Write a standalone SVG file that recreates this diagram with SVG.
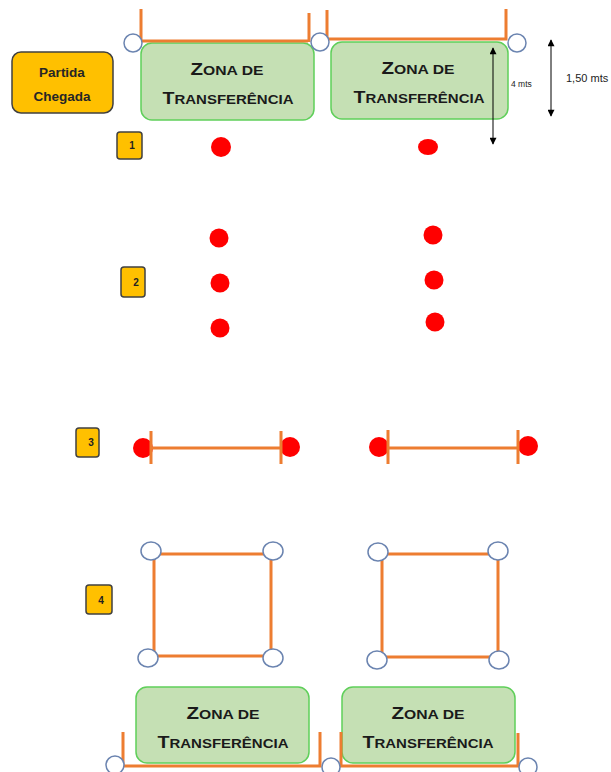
<svg xmlns="http://www.w3.org/2000/svg" width="611" height="772" viewBox="0 0 611 772">
<style>
.zone{fill:#C5E0B4;stroke:#5FCF5A;stroke-width:1.5}
.ztxt{font-family:"Liberation Sans",Arial,sans-serif;font-weight:bold;fill:#1a1a1a;text-anchor:middle}
.big{font-size:17px}
.sm{font-size:13px}
.bar{stroke:#ED7D31;stroke-width:3;fill:none}
.cone{fill:#fff;stroke:#6B84B0;stroke-width:1.5}
.dot{fill:#FF0000}
.badge{fill:#FFC000;stroke:#404040;stroke-width:1.5}
.btxt{font-family:"Liberation Sans",Arial,sans-serif;font-weight:bold;font-size:10px;fill:#222;text-anchor:middle}
.dim{stroke:#000;stroke-width:1}
.dtxt{font-family:"Liberation Sans",Arial,sans-serif;fill:#222}
.ptxt{font-family:"Liberation Sans",Arial,sans-serif;font-weight:bold;font-size:13.5px;fill:#262626;text-anchor:middle}
</style>
<defs>
<marker id="ah" viewBox="0 0 10 10" refX="9" refY="5" markerWidth="9" markerHeight="7" orient="auto-start-reverse" markerUnits="userSpaceOnUse">
<path d="M0,0 L10,5 L0,10 z" fill="#000"/>
</marker>
</defs>
<rect width="611" height="772" fill="#fff"/>

<g id="partida">
<rect class="badge" x="12" y="52" width="101" height="61" rx="9"/>
<text class="ptxt" x="62" y="77">Partida</text>
<text class="ptxt" x="62" y="101">Chegada</text>
</g>

<g id="zone-top-left">
<rect class="zone" x="141" y="43" width="173" height="77" rx="11"/>
<text class="ztxt" x="227" y="75" textLength="73" lengthAdjust="spacingAndGlyphs"><tspan class="big">Z</tspan><tspan class="sm">ONA DE</tspan></text>
<text class="ztxt" x="228" y="104" textLength="131" lengthAdjust="spacingAndGlyphs"><tspan class="big">T</tspan><tspan class="sm">RANSFERÊNCIA</tspan></text>
</g>
<g id="zone-top-right">
<rect class="zone" x="331" y="42" width="177" height="77" rx="11"/>
<text class="ztxt" x="418" y="74" textLength="73" lengthAdjust="spacingAndGlyphs"><tspan class="big">Z</tspan><tspan class="sm">ONA DE</tspan></text>
<text class="ztxt" x="419" y="103" textLength="131" lengthAdjust="spacingAndGlyphs"><tspan class="big">T</tspan><tspan class="sm">RANSFERÊNCIA</tspan></text>
</g>
<g id="zone-bottom-left">
<rect class="zone" x="136" y="687" width="173" height="76" rx="11"/>
<text class="ztxt" x="223" y="719" textLength="73" lengthAdjust="spacingAndGlyphs"><tspan class="big">Z</tspan><tspan class="sm">ONA DE</tspan></text>
<text class="ztxt" x="223" y="748" textLength="131" lengthAdjust="spacingAndGlyphs"><tspan class="big">T</tspan><tspan class="sm">RANSFERÊNCIA</tspan></text>
</g>
<g id="zone-bottom-right">
<rect class="zone" x="342" y="687" width="173" height="76" rx="11"/>
<text class="ztxt" x="428" y="719" textLength="73" lengthAdjust="spacingAndGlyphs"><tspan class="big">Z</tspan><tspan class="sm">ONA DE</tspan></text>
<text class="ztxt" x="428" y="748" textLength="131" lengthAdjust="spacingAndGlyphs"><tspan class="big">T</tspan><tspan class="sm">RANSFERÊNCIA</tspan></text>
</g>

<g id="brackets">
<path class="bar" d="M141,9 V41 H308 M309,13 V42"/>
<path class="bar" d="M327,10 V39 H506 V9"/>
<path class="bar" d="M123,732 V766 H320 V732"/>
<path class="bar" d="M341,732 V766 H518 V733"/>
</g>

<g id="cones">
<ellipse class="cone" cx="133" cy="43" rx="9" ry="9"/>
<ellipse class="cone" cx="320" cy="42" rx="9" ry="9"/>
<ellipse class="cone" cx="517" cy="43" rx="9" ry="9"/>
<ellipse class="cone" cx="115" cy="765" rx="9" ry="9"/>
<ellipse class="cone" cx="331" cy="767" rx="9" ry="9"/>
<ellipse class="cone" cx="528" cy="767" rx="9" ry="9"/>
</g>

<g id="dimensions">
<line class="dim" x1="493" y1="48" x2="493" y2="144" marker-start="url(#ah)" marker-end="url(#ah)"/>
<text class="dtxt" x="511" y="87" font-size="8.5">4 mts</text>
<line class="dim" x1="551" y1="40" x2="551" y2="116" marker-start="url(#ah)" marker-end="url(#ah)"/>
<text class="dtxt" x="566" y="82" font-size="11">1,50 mts</text>
</g>

<g id="step1">
<rect class="badge" x="117" y="132" width="25" height="27" rx="3"/>
<text class="btxt" x="132" y="149">1</text>
<ellipse class="dot" cx="221" cy="147" rx="10" ry="10"/>
<ellipse class="dot" cx="428" cy="147" rx="10" ry="8"/>
</g>

<g id="step2">
<rect class="badge" x="121" y="267" width="24" height="30" rx="3"/>
<text class="btxt" x="136" y="286">2</text>
<circle class="dot" cx="219" cy="238" r="9.5"/>
<circle class="dot" cx="220" cy="283" r="9.5"/>
<circle class="dot" cx="220" cy="328" r="9.5"/>
<circle class="dot" cx="433" cy="235" r="9.5"/>
<circle class="dot" cx="434" cy="280" r="9.5"/>
<circle class="dot" cx="435" cy="322" r="9.5"/>
</g>

<g id="step3">
<rect class="badge" x="76" y="428" width="23" height="29" rx="3"/>
<text class="btxt" x="91" y="446">3</text>
<circle class="dot" cx="143" cy="448" r="10"/>
<circle class="dot" cx="290" cy="447" r="10"/>
<circle class="dot" cx="379" cy="447" r="10"/>
<circle class="dot" cx="528" cy="446" r="10"/>
<path class="bar" d="M151,431 V464 M281,431 V464 M151,448 H281"/>
<path class="bar" d="M388,430 V464 M518,430 V464 M388,448 H518"/>
</g>

<g id="step4">
<rect class="badge" x="86" y="585" width="26" height="29" rx="3"/>
<text class="btxt" x="101" y="604">4</text>
<path class="bar" d="M154,554 H271 V656 H154 Z"/>
<path class="bar" d="M382,554 H498 V657 H382 Z"/>
<ellipse class="cone" cx="151" cy="551" rx="10" ry="9"/>
<ellipse class="cone" cx="273" cy="551" rx="10" ry="9"/>
<ellipse class="cone" cx="148" cy="658" rx="10" ry="9"/>
<ellipse class="cone" cx="273" cy="658" rx="10" ry="9"/>
<ellipse class="cone" cx="378" cy="552" rx="10" ry="9"/>
<ellipse class="cone" cx="498" cy="551" rx="10" ry="9"/>
<ellipse class="cone" cx="377" cy="660" rx="10" ry="9"/>
<ellipse class="cone" cx="499" cy="660" rx="10" ry="9"/>
</g>
</svg>
